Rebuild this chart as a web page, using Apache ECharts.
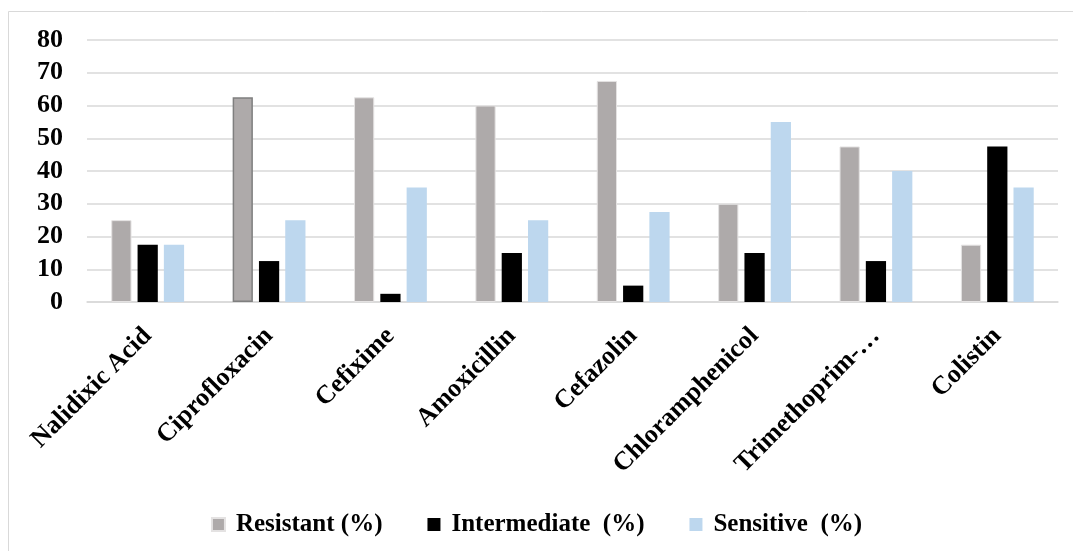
<!DOCTYPE html>
<html>
<head>
<meta charset="utf-8">
<script src="https://cdn.jsdelivr.net/npm/echarts@6/dist/echarts.min.js"></script>
<style>
  html, body { margin: 0; padding: 0; background: #ffffff; }
  #chart { width: 1073px; height: 551px; }
</style>
</head>
<body>
<div id="chart"></div>
<script>
// Antibiotic susceptibility profile (percent of isolates)
const antibiotics = ['Nalidixic Acid', 'Ciprofloxacin', 'Cefixime', 'Amoxicillin', 'Cefazolin',
                     'Chloramphenicol', 'Trimethoprim-Sulfamethoxazole', 'Colistin'];
const resistant    = [25, 62.5, 62.5, 60, 67.5, 30, 47.5, 17.5];
const intermediate = [17.5, 12.5, 2.5, 15, 5, 15, 12.5, 47.5];
const sensitive    = [17.5, 25, 35, 25, 27.5, 55, 40, 35];
const seriesNames  = ['Resistant (%)', 'Intermediate  (%)', 'Sensitive  (%)'];
const yTicks       = [0, 10, 20, 30, 40, 50, 60, 70, 80];

const FONT = '"Liberation Serif", "Times New Roman", serif';
const chart = echarts.init(document.getElementById('chart'));

// Ciprofloxacin's resistant bar carries a darker outline
const resistantData = resistant.map((v, i) => i === 1
  ? { value: v, itemStyle: { borderColor: '#7f7f7f', borderWidth: 1.5 } }
  : v);

chart.setOption({
  animation: false,
  backgroundColor: '#ffffff',
  graphic: [{
    type: 'rect',
    shape: { x: 8.5, y: 11.5, width: 1200, height: 700 },
    style: { fill: 'none', stroke: '#d9d9d9', lineWidth: 1 },
    silent: true
  }],
  grid: { left: 87, right: 15, top: 40, bottom: 249 },
  legend: {
    data: seriesNames,
    left: 'center',
    top: 507,
    itemWidth: 13,
    itemHeight: 13,
    itemGap: 45,
    icon: 'rect',
    textStyle: { fontFamily: FONT, fontWeight: 'bold', fontSize: 25, color: '#000', padding: [0, 0, 0, 6] }
  },
  xAxis: {
    type: 'category',
    data: antibiotics,
    axisLine: { lineStyle: { color: '#d9d9d9', width: 1.5 } },
    axisTick: { show: false },
    axisLabel: {
      interval: 0,
      rotate: 45,
      margin: 30,
      fontFamily: FONT,
      fontWeight: 'bold',
      fontSize: 26,
      color: '#000',
      formatter: v => v.length > 16 ? v.slice(0, v.indexOf('-') + 1) + '…' : v
    }
  },
  yAxis: {
    type: 'value',
    min: yTicks[0],
    max: yTicks[yTicks.length - 1],
    interval: 10,
    axisLine: { show: false },
    axisTick: { show: false },
    splitLine: { lineStyle: { color: '#d9d9d9', width: 1.5 } },
    axisLabel: {
      margin: 24,
      fontFamily: FONT,
      fontWeight: 'bold',
      fontSize: 26,
      color: '#000'
    }
  },
  series: [
    {
      name: seriesNames[0], type: 'bar', data: resistantData,
      barGap: '30%', barCategoryGap: '40%',
      itemStyle: { color: '#aeaaaa', borderColor: '#e4e2e2', borderWidth: 1 }
    },
    {
      name: seriesNames[1], type: 'bar', data: intermediate,
      barGap: '30%', barCategoryGap: '40%',
      itemStyle: { color: '#000000' }
    },
    {
      name: seriesNames[2], type: 'bar', data: sensitive,
      barGap: '30%', barCategoryGap: '40%',
      itemStyle: { color: '#bdd7ee' }
    }
  ]
});
</script>
</body>
</html>
